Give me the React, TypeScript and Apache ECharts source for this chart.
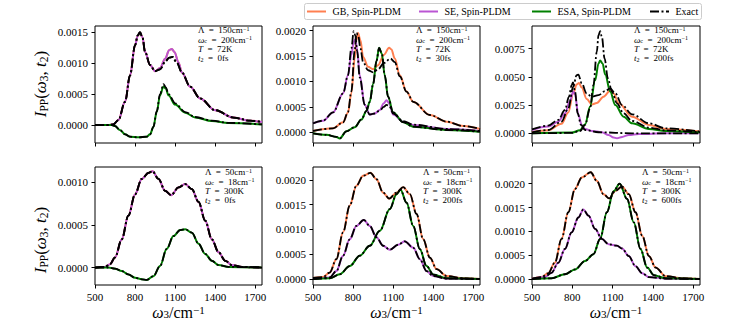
import React, { useEffect, useRef } from 'react';
import * as echarts from 'echarts';

// ---------- tick values ----------
const xTicks = [500, 800, 1100, 1400, 1700];
const yTicksP1 = [0, 0.0005, 0.001, 0.0015];
const yTicksP2 = [0, 0.0005, 0.001, 0.0015, 0.002];
const yTicksP3 = [0, 0.0025, 0.005, 0.0075];
const yTicksP4 = [0, 0.0005, 0.001];
const yTicksP5 = [0, 0.0005, 0.001, 0.0015, 0.002];
const yTicksP6 = [0, 0.0005, 0.001, 0.0015, 0.002];

// ---------- annotation values ----------
const lambdaVals = ['150', '150', '150', '50', '50', '50'];
const omegaVals = ['200', '200', '200', '18', '18', '18'];
const tempVals = ['72K', '72K', '72K', '300K', '300K', '300K'];
const t2Vals = ['0fs', '30fs', '200fs', '0fs', '200fs', '600fs'];

// ---------- panel 1 (t2 = 0 fs, Λ=150) ----------
const p1SE = [[500,0],[600,0],[637,0.00001],[675,0.00008],[725,0.000375],[762,0.0008],[800,0.00129],[820,0.00144],[837,0.00149],[855,0.00142],[875,0.00118],[912,0.00097],[950,0.00087],[987,0.00092],[1025,0.00107],[1055,0.00121],[1075,0.00123],[1095,0.00118],[1125,0.00101],[1150,0.00085],[1212,0.00062],[1287,0.00043],[1400,0.00024],[1537,0.00012],[1662,0.00007],[1750,0.00005]];
const p1GB = p1SE;
const p1SEExact = [[500,0],[600,0],[637,0.00001],[675,0.00008],[725,0.000375],[762,0.0008],[800,0.00129],[820,0.00145],[837,0.0015],[855,0.00142],[875,0.00118],[912,0.00097],[950,0.00087],[987,0.0009],[1025,0.00102],[1055,0.00109],[1080,0.0011],[1112,0.00101],[1150,0.00085],[1212,0.00062],[1287,0.00043],[1400,0.00024],[1537,0.00012],[1662,0.00007],[1750,0.00005]];
const p1GBExact = p1SEExact;
const p1ESA = [[500,0],[625,0],[650,-0.000016],[687,-0.00008],[725,-0.00015],[762,-0.000188],[825,-0.000198],[887,-0.000188],[912,-0.00015],[937,-0.00003],[962,0.00021],[987,0.00048],[1012,0.00062],[1030,0.00059],[1050,0.00048],[1100,0.00033],[1175,0.0002],[1250,0.000123],[1375,0.000064],[1500,0.000032],[1750,0.00001]];
const p1ESAExact = [[500,0],[625,0],[650,-0.000016],[687,-0.00008],[725,-0.00015],[762,-0.000188],[825,-0.000198],[887,-0.000188],[912,-0.00015],[937,-0.00003],[962,0.00022],[987,0.0005],[1012,0.00066],[1030,0.00061],[1050,0.0005],[1100,0.00035],[1175,0.00021],[1250,0.00013],[1375,0.00007],[1500,0.000035],[1750,0.00001]];

// ---------- panel 2 (t2 = 30 fs, Λ=150) ----------
const p2GB = [[500,0.000026],[650,0.000078],[725,0.000196],[762,0.00039],[787,0.00077],[812,0.00145],[825,0.00181],[837,0.00195],[855,0.00181],[875,0.00148],[912,0.00129],[950,0.00124],[987,0.00132],[1030,0.00152],[1070,0.00166],[1087,0.00163],[1112,0.00145],[1150,0.00112],[1200,0.0008],[1250,0.0006],[1375,0.00034],[1500,0.00021],[1625,0.000124],[1750,0.000065]];
const p2GBExact = [[500,0.000026],[650,0.000078],[725,0.000196],[762,0.0004],[787,0.0008],[812,0.0016],[825,0.00195],[837,0.00192],[855,0.00165],[875,0.00138],[912,0.00122],[950,0.00118],[987,0.00124],[1030,0.00136],[1080,0.00145],[1112,0.00138],[1150,0.0011],[1200,0.0008],[1250,0.0006],[1375,0.00034],[1500,0.00021],[1625,0.000124],[1750,0.000065]];
const p2SE = [[500,0.000176],[575,0.000229],[650,0.000392],[725,0.000765],[762,0.00112],[787,0.00152],[805,0.00178],[817,0.00183],[830,0.00165],[850,0.00112],[887,0.00054],[925,0.00035],[962,0.00037],[1000,0.00044],[1030,0.00057],[1050,0.00063],[1070,0.00057],[1100,0.00035],[1175,0.00021],[1250,0.000144],[1500,0.000065],[1750,0.000026]];
const p2SEExact = [[500,0.000176],[575,0.000229],[650,0.000392],[725,0.000765],[762,0.00112],[787,0.00165],[805,0.00199],[817,0.0019],[830,0.0016],[850,0.00108],[887,0.00054],[925,0.00035],[962,0.00037],[1000,0.00043],[1030,0.0005],[1050,0.00054],[1070,0.00052],[1100,0.00037],[1175,0.00022],[1250,0.00015],[1500,0.000065],[1750,0.000026]];
const p2ESA = [[500,-0.00002],[600,-0.00005],[675,-0.00009],[700,-0.00012],[750,0.00002],[812,0.0001],[862,0.00025],[900,0.00042],[925,0.0006],[950,0.00095],[975,0.0014],[995,0.00166],[1015,0.00155],[1037,0.00112],[1062,0.0007],[1100,0.00039],[1175,0.0002],[1250,0.00011],[1500,0.000046],[1750,0.000013]];
const p2ESAExact = p2ESA;

// ---------- panel 3 (t2 = 200 fs, Λ=150) ----------
const p3GB = [[500,0.00009],[620,0.00026],[720,0.00085],[770,0.00185],[807,0.00353],[832,0.00432],[850,0.00445],[870,0.00405],[907,0.00303],[945,0.00255],[982,0.00268],[1032,0.00324],[1082,0.00378],[1107,0.00353],[1145,0.00265],[1245,0.00147],[1370,0.00074],[1495,0.00038],[1750,0.00015]];
const p3GBExact = [[500,0.00009],[620,0.00029],[720,0.00103],[770,0.0022],[807,0.00412],[832,0.00515],[845,0.0052],[870,0.00441],[907,0.00353],[945,0.00324],[995,0.00338],[1045,0.00374],[1082,0.00397],[1120,0.00353],[1170,0.0025],[1245,0.00168],[1370,0.00088],[1495,0.00044],[1750,0.00015]];
const p3SE = [[500,0.00029],[620,0.00059],[695,0.00103],[745,0.00176],[782,0.00285],[807,0.0037],[820,0.00345],[845,0.00162],[870,0.00074],[895,0.00038],[945,0.00021],[1020,0.00009],[1070,-0.00015],[1107,-0.00038],[1132,-0.00044],[1170,-0.00032],[1220,-0.00015],[1295,-0.00006],[1495,0],[1750,0]];
const p3SEExact = [[500,0.00035],[620,0.00068],[695,0.00118],[745,0.00206],[775,0.00324],[795,0.00426],[805,0.0045],[820,0.00368],[840,0.00176],[865,0.00074],[895,0.00029],[995,0.00009],[1245,0],[1750,0]];
const p3ESA = [[500,0],[795,0.00006],[857,0.00026],[895,0.00079],[932,0.00235],[970,0.0047],[995,0.00618],[1007,0.00645],[1025,0.00618],[1045,0.0052],[1082,0.00368],[1120,0.0025],[1182,0.00147],[1245,0.00088],[1370,0.00038],[1495,0.00021],[1750,0.00006]];
const p3ESAExact = [[500,0],[795,0.00003],[857,0.0002],[895,0.00074],[932,0.0022],[957,0.00426],[982,0.0072],[995,0.00868],[1007,0.00905],[1020,0.00853],[1040,0.00662],[1065,0.00485],[1095,0.00368],[1132,0.00265],[1182,0.00176],[1245,0.00109],[1370,0.0005],[1495,0.00026],[1750,0.00009]];

// ---------- panel 4 (t2 = 0 fs, Λ=50) ----------
const p4SE = [[500,0],[575,0.000008],[612,0.00004],[650,0.00012],[700,0.00033],[750,0.00061],[800,0.00086],[850,0.00104],[900,0.00111],[930,0.00113],[975,0.00104],[1025,0.0009],[1070,0.00085],[1125,0.00094],[1175,0.00098],[1225,0.00092],[1275,0.00077],[1325,0.00055],[1375,0.00033],[1425,0.00018],[1475,0.00008],[1525,0.00003],[1600,0.000008],[1750,0]];
const p4GB = p4SE;
const p4ESA = [[500,0],[600,0],[650,-0.000012],[700,-0.00004],[750,-0.00008],[800,-0.00012],[850,-0.000137],[887,-0.000145],[937,-0.0001],[987,0.00002],[1037,0.00022],[1087,0.00037],[1137,0.00044],[1175,0.00045],[1225,0.00041],[1275,0.00028],[1325,0.00016],[1375,0.00008],[1425,0.00003],[1500,0.000008],[1750,0]];

// ---------- panel 5 (t2 = 200 fs, Λ=50) ----------
const p5GB = [[500,0.00002],[575,0.00004],[625,0.00013],[675,0.0004],[725,0.00094],[775,0.00148],[825,0.00188],[875,0.00208],[930,0.00214],[975,0.00201],[1025,0.00174],[1070,0.00162],[1125,0.00174],[1175,0.00185],[1225,0.00171],[1275,0.00131],[1325,0.0008],[1375,0.00043],[1425,0.0002],[1500,0.00006],[1625,0.000013],[1750,0]];
const p5SE = [[500,0],[625,0.00003],[675,0.00016],[725,0.00047],[775,0.0008],[825,0.00107],[880,0.00119],[925,0.00107],[975,0.00084],[1025,0.00067],[1075,0.00059],[1137,0.00069],[1187,0.00076],[1250,0.00063],[1300,0.0004],[1350,0.00016],[1400,0.00006],[1500,0.000007],[1750,0]];
const p5ESA = [[500,0],[625,0.000013],[700,0.000094],[775,0.00026],[850,0.00047],[925,0.00067],[1000,0.00097],[1075,0.00141],[1125,0.00171],[1155,0.0018],[1200,0.00154],[1250,0.00107],[1300,0.0006],[1350,0.00026],[1400,0.00009],[1500,0.000013],[1750,0]];

// ---------- panel 6 (t2 = 600 fs, Λ=50) ----------
const p6GB = [[500,0.000007],[570,0.00004],[620,0.00012],[670,0.00034],[720,0.00084],[770,0.0014],[820,0.00189],[870,0.00213],[937,0.00224],[982,0.00206],[1032,0.00178],[1075,0.00169],[1120,0.00185],[1170,0.00194],[1220,0.00178],[1270,0.0014],[1320,0.00091],[1370,0.00048],[1420,0.00024],[1495,0.00006],[1620,0.000014],[1750,0]];
const p6SE = [[500,0],[595,0.00004],[645,0.00013],[695,0.00034],[745,0.00063],[795,0.00098],[845,0.00129],[882,0.00146],[920,0.00133],[970,0.00105],[1020,0.00084],[1070,0.00073],[1132,0.0007],[1170,0.00064],[1220,0.00048],[1270,0.00027],[1320,0.00012],[1370,0.00004],[1495,0.000007],[1750,0]];
const p6ESA = [[500,0],[645,0.000014],[745,0.0001],[820,0.0002],[895,0.00038],[957,0.00052],[1007,0.00084],[1057,0.0014],[1107,0.00184],[1152,0.002],[1207,0.00168],[1257,0.00119],[1307,0.00063],[1357,0.00024],[1407,0.00008],[1495,0.000014],[1750,0]];

const COLORS = { gb: '#FF7F50', se: '#BA55D3', esa: '#008000', exact: '#000000' };
const FONT = 'Liberation Serif';

export default function App() {
  const ref = useRef<HTMLDivElement>(null);

  useEffect(() => {
    const chart = echarts.init(ref.current!, null, { renderer: 'svg' });

    const panels = [
      { gb: p1GB, se: p1SE, esa: p1ESA, gbX: p1GBExact, seX: p1SEExact, esaX: p1ESAExact, yMin: -0.00029, yMax: 0.0016, yTicks: yTicksP1, left: 95, top: 26, w: 167, h: 117, tx: 198 },
      { gb: p2GB, se: p2SE, esa: p2ESA, gbX: p2GBExact, seX: p2SEExact, esaX: p2ESAExact, yMin: -0.00021, yMax: 0.00209, yTicks: yTicksP2, left: 313, top: 26, w: 167, h: 117, tx: 416 },
      { gb: p3GB, se: p3SE, esa: p3ESA, gbX: p3GBExact, seX: p3SEExact, esaX: p3ESAExact, yMin: -0.00086, yMax: 0.0095, yTicks: yTicksP3, left: 532, top: 26, w: 168, h: 117, tx: 634 },
      { gb: p4GB, se: p4SE, esa: p4ESA, gbX: p4GB, seX: p4SE, esaX: p4ESA, yMin: -0.000204, yMax: 0.00118, yTicks: yTicksP4, left: 95, top: 167, w: 167, h: 118, tx: 205 },
      { gb: p5GB, se: p5SE, esa: p5ESA, gbX: p5GB, seX: p5SE, esaX: p5ESA, yMin: -0.000121, yMax: 0.002257, yTicks: yTicksP5, left: 313, top: 167, w: 167, h: 118, tx: 423 },
      { gb: p6GB, se: p6SE, esa: p6ESA, gbX: p6GB, seX: p6SE, esaX: p6ESA, yMin: -0.000126, yMax: 0.00235, yTicks: yTicksP6, left: 532, top: 167, w: 168, h: 118, tx: 642 },
    ];

    const grids: any[] = [];
    const xAxes: any[] = [];
    const yAxes: any[] = [];
    const series: any[] = [];
    const graphics: any[] = [];

    const LH = 9.4;
    const rich = {
      g: { fontFamily: FONT, fontSize: 9, lineHeight: LH, verticalAlign: 'middle', color: '#000' },
      i: { fontFamily: FONT, fontSize: 9, fontStyle: 'italic', lineHeight: LH, verticalAlign: 'middle', color: '#000' },
      sup: { fontFamily: FONT, fontSize: 6, lineHeight: 3.5, verticalAlign: 'top', color: '#000' },
      sub: { fontFamily: FONT, fontSize: 6, lineHeight: 3.5, verticalAlign: 'bottom', color: '#000' },
    };

    const mkLine = (name: string, data: number[][], color: string, i: number, dashed: boolean) => ({
      type: 'line',
      name,
      data,
      xAxisIndex: i,
      yAxisIndex: i,
      showSymbol: false,
      symbol: 'none',
      smooth: 0.35,
      smoothMonotone: 'x',
      silent: true,
      z: dashed ? 4 : 2,
      lineStyle: { color, width: dashed ? 1.8 : 2, type: dashed ? [9, 2.5, 2, 2.5] : 'solid', cap: 'butt' },
    });

    panels.forEach((p, i) => {
      grids.push({ left: p.left, top: p.top, width: p.w, height: p.h, show: true, borderColor: '#000', borderWidth: 1, backgroundColor: 'transparent' });
      xAxes.push({
        type: 'value', gridIndex: i, min: 500, max: 1750,
        axisLine: { show: false, onZero: false }, splitLine: { show: false },
        axisTick: { show: true, length: 3.5, customValues: xTicks, lineStyle: { color: '#000', width: 1 } },
        axisLabel: { show: i >= 3, customValues: xTicks, margin: 6, color: '#000', fontSize: 11, fontFamily: FONT, formatter: (v: number) => String(v) },
      });
      yAxes.push({
        type: 'value', gridIndex: i, min: p.yMin, max: p.yMax,
        axisLine: { show: false, onZero: false }, splitLine: { show: false },
        axisTick: { show: true, length: 3.5, customValues: p.yTicks, lineStyle: { color: '#000', width: 1 } },
        axisLabel: { customValues: p.yTicks, margin: 7, color: '#000', fontSize: 11, fontFamily: FONT, formatter: (v: number) => v.toFixed(4) },
      });
      series.push(mkLine('GB, Spin-PLDM', p.gb, COLORS.gb, i, false));
      series.push(mkLine('SE, Spin-PLDM', p.se, COLORS.se, i, false));
      series.push(mkLine('ESA, Spin-PLDM', p.esa, COLORS.esa, i, false));
      series.push(mkLine('Exact', p.gbX, COLORS.exact, i, true));
      series.push(mkLine('Exact', p.seX, COLORS.exact, i, true));
      series.push(mkLine('Exact', p.esaX, COLORS.exact, i, true));

      const top = i < 3 ? 25.5 : 167.5;
      const text = [
        `{g|Λ  =  ${lambdaVals[i]}cm}{sup|−1}`,
        `{i|ω}{sub|c}{g|  =  ${omegaVals[i]}cm}{sup|−1}`,
        `{i|T}{g|  =  ${tempVals[i]}}`,
        `{i|t}{sub|2}{g|  =  ${t2Vals[i]}}`,
      ].join('\n');
      graphics.push({
        type: 'text', x: p.tx, y: top, z: 10,
        style: { text, rich, align: 'left', verticalAlign: 'top', fill: '#000' },
      });
    });

    // y-axis labels
    const yRich = {
      m: { fontFamily: FONT, fontSize: 17, lineHeight: 20, verticalAlign: 'middle', color: '#000' },
      mi: { fontFamily: FONT, fontSize: 17, fontStyle: 'italic', lineHeight: 20, verticalAlign: 'middle', color: '#000' },
      s: { fontFamily: FONT, fontSize: 11.5, lineHeight: 12, verticalAlign: 'bottom', color: '#000' },
    };
    const yLabel = '{mi|I}{s|PP}{m|(}{mi|ω}{s|3}{m|, }{mi|t}{s|2}{m|)}';
    [84, 240].forEach((cy) => {
      graphics.push({ type: 'text', x: 40, y: cy, rotation: Math.PI / 2, style: { text: yLabel, rich: yRich, align: 'center', verticalAlign: 'middle', fill: '#000' } });
    });
    const xRich = {
      m: { fontFamily: FONT, fontSize: 16, lineHeight: 15, verticalAlign: 'middle', color: '#000' },
      mi: { fontFamily: FONT, fontSize: 16, fontStyle: 'italic', lineHeight: 15, verticalAlign: 'middle', color: '#000' },
      s: { fontFamily: FONT, fontSize: 11, lineHeight: 10, verticalAlign: 'bottom', color: '#000' },
      p: { fontFamily: FONT, fontSize: 11, lineHeight: 10, verticalAlign: 'top', color: '#000' },
    };
    const xLabel = '{mi|ω}{s|3}{m|/cm}{p|−1}';
    [178.5, 396.5, 616].forEach((cx) => {
      graphics.push({ type: 'text', x: cx, y: 312, style: { text: xLabel, rich: xRich, align: 'center', verticalAlign: 'middle', fill: '#000' } });
    });

    // legend
    graphics.push({ type: 'rect', shape: { x: 304.5, y: 3.5, width: 397, height: 16, r: 2 }, style: { fill: '#fff', stroke: '#cccccc', lineWidth: 1 }, z: 20 });
    const legendItems = [
      { label: 'GB, Spin-PLDM', color: COLORS.gb, x: 307, dash: null },
      { label: 'SE, Spin-PLDM', color: COLORS.se, x: 419, dash: null },
      { label: 'ESA, Spin-PLDM', color: COLORS.esa, x: 532, dash: null },
      { label: 'Exact', color: COLORS.exact, x: 650, dash: [9, 2.5, 2, 2.5] },
    ];
    legendItems.forEach((it) => {
      graphics.push({ type: 'line', shape: { x1: it.x, y1: 11.5, x2: it.x + 19, y2: 11.5 }, style: { stroke: it.color, lineWidth: it.dash ? 1.8 : 2, lineDash: it.dash || undefined }, z: 21 });
      graphics.push({ type: 'text', x: it.x + 25.5, y: 11.5, z: 21, style: { text: it.label, fontFamily: FONT, fontSize: 10, fill: '#000', align: 'left', verticalAlign: 'middle' } });
    });

    chart.setOption({
      animation: false,
      textStyle: { fontFamily: FONT },
      grid: grids,
      xAxis: xAxes,
      yAxis: yAxes,
      series,
      graphic: { elements: graphics },
    });

    return () => chart.dispose();
  }, []);

  return <div ref={ref} style={{ position: 'fixed', left: 0, top: 0, width: 729, height: 324, background: '#fff' }} />;
}
